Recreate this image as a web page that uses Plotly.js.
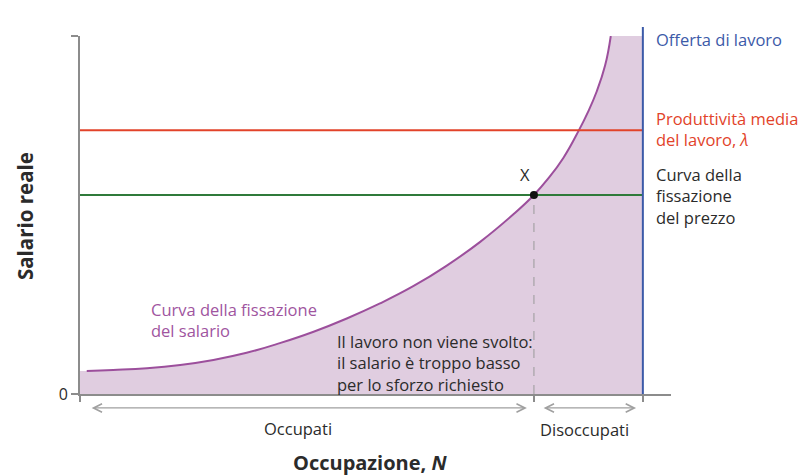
<!DOCTYPE html>
<html>
<head>
<meta charset="utf-8">
<script src="https://cdn.plot.ly/plotly-3.0.1.min.js"></script>
<style>
  html, body { margin: 0; padding: 0; background: #fff; }
  #chart { width: 810px; height: 475px; }
</style>
</head>
<body>
<div id="chart"></div>
<script>
var wageN = [1.2, 5.9, 11.9, 17.8, 23.7, 29.6, 35.5, 41.5, 47.4, 53.3, 59.2, 65.1, 71.1, 77.0, 80.65, 83.2, 85.9, 88.65, 90.2, 91.8, 93.3, 94.3];
var wageW = [6.4, 6.7, 7.2, 8.1, 9.5, 11.5, 14.2, 17.4, 21.1, 25.3, 30.1, 35.8, 42.5, 50.2, 55.6, 60.2, 66.0, 73.7, 78.6, 84.5, 91.8, 100];

var priceSettingW = 55.6;   // price-setting curve
var productivityW = 73.7;   // average labour productivity, lambda
var laborSupplyN = 100;     // labour supply
var equilibriumN = 80.65;   // point X
var wTop = 100;

var fontFam = '"Open Sans", "Noto Sans", sans-serif';
var textColor = '#2b2b2b';
var axisColor = '#8c8c8c';
var purple = '#9c4f9c';
var noteSize = 16.5;

var fillTrace = {
  x: [0].concat(wageN, [laborSupplyN, laborSupplyN, 0]),
  y: [wageW[0]].concat(wageW, [wTop, 0, 0]),
  mode: 'lines',
  fill: 'toself',
  fillcolor: '#e0cde0',
  line: { width: 0 },
  hoverinfo: 'skip',
};

var wageTrace = {
  x: wageN,
  y: wageW,
  mode: 'lines',
  line: { color: purple, width: 2, shape: 'spline', smoothing: 1.3 },
  hoverinfo: 'skip',
};

var productivityTrace = {
  x: [0, laborSupplyN],
  y: [productivityW, productivityW],
  mode: 'lines',
  line: { color: '#e2432a', width: 2 },
  hoverinfo: 'skip',
};

var priceTrace = {
  x: [0, laborSupplyN],
  y: [priceSettingW, priceSettingW],
  mode: 'lines',
  line: { color: '#2f7a3a', width: 2 },
  hoverinfo: 'skip',
};

var dashTrace = {
  x: [equilibriumN, equilibriumN],
  y: [0, priceSettingW],
  mode: 'lines',
  line: { color: '#9a9a9a', width: 1, dash: 'dash' },
  hoverinfo: 'skip',
};

var pointTrace = {
  x: [equilibriumN],
  y: [priceSettingW],
  mode: 'markers',
  marker: { color: '#111', size: 8 },
  cliponaxis: false,
  hoverinfo: 'skip',
};

function textNote(text, x, y, opts) {
  return Object.assign({
    text: text,
    xref: 'x',
    yref: 'y',
    x: x,
    y: y,
    showarrow: false,
    xanchor: 'left',
    yanchor: 'middle',
    align: 'left',
    font: { family: fontFam, size: noteSize, color: textColor },
  }, opts || {});
}

function rangeArrow(x0, x1) {
  return {
    text: '',
    xref: 'x',
    yref: 'paper',
    x: x1,
    y: -0.039,
    axref: 'x',
    ax: x0,
    ayref: 'pixel',
    ay: 0,
    showarrow: true,
    arrowside: 'end+start',
    arrowhead: 5,
    startarrowhead: 5,
    arrowsize: 1.4,
    startarrowsize: 1.4,
    arrowwidth: 1.2,
    arrowcolor: '#a0a0a0',
  };
}

var annotations = [
  textNote('Offerta di lavoro', 101.9, 98.9, { font: { family: fontFam, size: noteSize, color: '#3c5aa8' } }),
  textNote('Produttività media<br>del lavoro, <i>λ</i>', 101.9, 74.0, { font: { family: fontFam, size: noteSize, color: '#e2432a' } }),
  textNote('Curva della<br>fissazione<br>del prezzo', 101.9, 55.4),
  textNote('X', 79.0, 61.2, { xanchor: 'center' }),
  textNote('Curva della fissazione<br>del salario', 12.3, 20.8, { font: { family: fontFam, size: noteSize, color: '#a055a0' } }),
  textNote('Il lavoro non viene svolto:<br>il salario è troppo basso<br>per lo sforzo richiesto', 45.3, 8.7),
  textNote('Occupati', 38.7, -0.095, { yref: 'paper', xanchor: 'center' }),
  textNote('Disoccupati', 89.7, -0.1, { yref: 'paper', xanchor: 'center' }),
  textNote('<b>Occupazione, <i>N</i></b>', 51.5, -0.19, {
    yref: 'paper', xanchor: 'center',
    font: { family: fontFam, size: 20, color: textColor },
  }),
  textNote('<b>Salario reale</b>', -0.093, 49.7, {
    xref: 'paper', xanchor: 'center', textangle: -90,
    font: { family: fontFam, size: 20.5, color: textColor },
  }),
  rangeArrow(1.8, 79.4),
  rangeArrow(82.1, 98.8),
];

var layout = {
  width: 810,
  height: 475,
  margin: { l: 80, r: 139, t: 36, b: 81 },
  paper_bgcolor: '#fff',
  plot_bgcolor: '#fff',
  showlegend: false,
  font: { family: fontFam, size: noteSize, color: textColor },
  xaxis: {
    range: [0, 105],
    autorange: false,
    showgrid: false,
    zeroline: false,
    showline: true,
    linecolor: axisColor,
    linewidth: 2,
    ticks: 'outside',
    ticklen: 6,
    tickwidth: 1.5,
    tickcolor: axisColor,
    tickmode: 'array',
    tickvals: [0, equilibriumN, laborSupplyN],
    showticklabels: false,
    fixedrange: true,
  },
  yaxis: {
    range: [0, wTop],
    autorange: false,
    showgrid: false,
    zeroline: false,
    showline: true,
    linecolor: axisColor,
    linewidth: 2,
    ticks: 'outside',
    ticklen: 7,
    tickwidth: 1.5,
    tickcolor: axisColor,
    tickmode: 'array',
    tickvals: [0, wTop],
    ticktext: ['0', ''],
    tickfont: { family: fontFam, size: 16, color: textColor },
    fixedrange: true,
  },
  shapes: [{
    type: 'line',
    xref: 'x',
    yref: 'paper',
    x0: laborSupplyN,
    x1: laborSupplyN,
    y0: 0,
    y1: 1.025,
    line: { color: '#3c5aa8', width: 2 },
  }],
  annotations: annotations,
};

Plotly.newPlot('chart',
  [fillTrace, wageTrace, productivityTrace, priceTrace, dashTrace, pointTrace],
  layout,
  { displayModeBar: false, staticPlot: true });
</script>
</body>
</html>
